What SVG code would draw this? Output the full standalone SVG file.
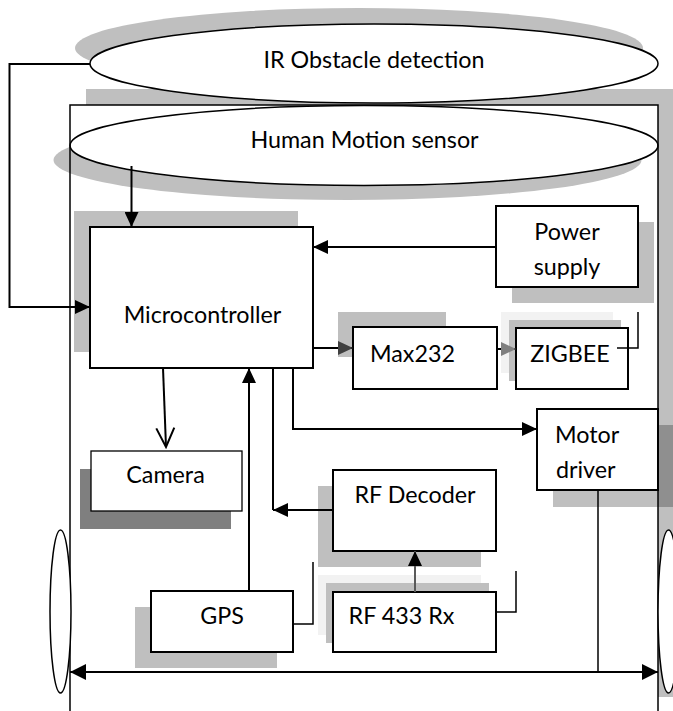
<svg xmlns="http://www.w3.org/2000/svg" width="673" height="711" viewBox="0 0 673 711">
<style>
  .t{font-family:Lato,"Liberation Sans",sans-serif;font-size:23.3px;fill:#000}
  .c{text-anchor:middle}
  .box{fill:#fff;stroke:#000;stroke-width:2}
  .thin{fill:#fff;stroke:#000;stroke-width:1.3}
  .sh{fill:#bfbfbf}
  .ln{fill:none;stroke:#000;stroke-width:2}
  .ln1{fill:none;stroke:#000;stroke-width:1.5}
</style>
<defs>
  <marker id="ah" markerUnits="userSpaceOnUse" markerWidth="15" markerHeight="14" refX="15" refY="7" orient="auto"><path d="M0,0 L15,7 L0,14 z" fill="#000"/></marker>
  <marker id="ahd" markerUnits="userSpaceOnUse" markerWidth="15" markerHeight="14" refX="15" refY="7" orient="auto"><path d="M0,0 L15,7 L0,14 z" fill="#404040"/></marker>
  <marker id="ahg" markerUnits="userSpaceOnUse" markerWidth="15" markerHeight="14" refX="15" refY="7" orient="auto"><path d="M0,0 L15,7 L0,14 z" fill="#7f7f7f"/></marker>
  <marker id="ahs" markerUnits="userSpaceOnUse" markerWidth="16" markerHeight="16" refX="16" refY="8" orient="auto-start-reverse"><path d="M0,0 L16,8 L0,16 z" fill="#000"/></marker>
  <marker id="av" markerUnits="userSpaceOnUse" markerWidth="22" markerHeight="22" refX="20" refY="11" orient="auto"><path d="M1,2 L20,11 L1,20" fill="none" stroke="#000" stroke-width="2"/></marker>
</defs>

<g id="chassis">
  <rect class="sh" x="86" y="89" width="588" height="608"/>
  <rect x="70" y="105" width="588" height="608" fill="#fff"/>
</g>

<g id="ir-obstacle">
  <ellipse class="sh" cx="359" cy="48" rx="284" ry="40"/>
  <ellipse cx="374" cy="63.5" rx="284" ry="39.5" fill="#fff" stroke="#000" stroke-width="1.5"/>
  <text class="t c" x="374" y="68">IR Obstacle detection</text>
</g>

<g id="human-motion">
  <ellipse class="sh" cx="347.5" cy="160" rx="294" ry="40"/>
  <ellipse cx="364" cy="145.5" rx="294" ry="40" fill="#fff" stroke="#000" stroke-width="1.5"/>
  <text class="t c" x="364.5" y="148">Human Motion sensor</text>
</g>

<g id="chassis-frame">
  <rect x="70" y="105" width="588" height="608" fill="none" stroke="#000" stroke-width="1.5"/>
</g>

<g id="microcontroller">
  <rect class="sh" x="74" y="211" width="224" height="141"/>
  <rect class="box" x="90" y="227" width="223" height="141"/>
  <text class="t c" x="202.5" y="323">Microcontroller</text>
</g>

<g id="power-supply">
  <rect class="sh" x="512" y="222" width="142" height="81"/>
  <rect class="box" x="496" y="206" width="142" height="81"/>
  <text class="t c" x="567" y="240">Power</text>
  <text class="t c" x="567" y="275">supply</text>
</g>

<g id="max232">
  <rect class="sh" x="338" y="312" width="108" height="45"/>
  <rect class="box" x="353" y="327" width="144" height="62"/>
  <text class="t c" x="412.5" y="362">Max232</text>
</g>

<g id="zigbee">
  <rect x="501" y="312" width="112" height="61" fill="#f2f2f2"/>
  <rect class="sh" x="509" y="320" width="112" height="61"/>
  <rect class="box" x="516" y="328" width="112" height="61"/>
  <text class="t c" x="570" y="362">ZIGBEE</text>
</g>

<g id="motor-driver">
  <rect x="553" y="425" width="121" height="82" fill="#000" fill-opacity="0.25"/>
  <rect class="box" x="537" y="409" width="121" height="81"/>
  <text class="t" x="555" y="443">Motor</text>
  <text class="t" x="556" y="478">driver</text>
</g>

<g id="camera">
  <rect x="80" y="469" width="151" height="60" fill="#7f7f7f"/>
  <rect class="thin" x="91" y="451" width="151" height="60"/>
  <text class="t c" x="165.5" y="483">Camera</text>
</g>

<g id="rf-decoder">
  <rect class="sh" x="318" y="486" width="163" height="81"/>
  <rect class="box" x="333" y="470" width="163" height="81"/>
  <text class="t c" x="415" y="503">RF Decoder</text>
</g>

<g id="gps">
  <rect class="sh" x="135" y="607" width="142" height="61"/>
  <rect class="box" x="151" y="591" width="142" height="61"/>
  <text class="t c" x="222" y="624">GPS</text>
</g>

<g id="rf433">
  <rect x="318" y="575" width="163" height="60" fill="#f2f2f2"/>
  <rect class="sh" x="326" y="583" width="163" height="60"/>
  <rect class="box" x="333" y="592" width="163" height="60"/>
  <text class="t c" x="401.5" y="624">RF 433 Rx</text>
</g>

<g id="wheel-left">
  <ellipse cx="60.5" cy="611.5" rx="10.5" ry="81.5" fill="#fff" stroke="#000" stroke-width="1.5"/>
</g>
<g id="wheel-right">
  <ellipse cx="668.5" cy="611.5" rx="10.5" ry="81.5" fill="#fff" stroke="#000" stroke-width="1.5"/>
</g>

<g id="connectors">
  <polyline class="ln" points="90,64 9.5,64 9.5,307 90,307" marker-end="url(#ah)"/>
  <line class="ln" x1="131.5" y1="166" x2="131.5" y2="227" marker-end="url(#ah)"/>
  <line class="ln" x1="496" y1="247" x2="313" y2="247" marker-end="url(#ah)"/>
  <line class="ln" x1="313" y1="348" x2="353" y2="348" marker-end="url(#ahd)"/>
  <line class="ln" x1="497" y1="349" x2="516" y2="349" marker-end="url(#ahg)"/>
  <polyline class="ln1" points="617,348 638,348 638,312"/>
  <polyline class="ln" points="293,368 293,429 537,429" marker-end="url(#ah)"/>
  <line class="ln" x1="163" y1="368" x2="166" y2="447" marker-end="url(#av)"/>
  <line class="ln" x1="249" y1="591" x2="249" y2="368" marker-end="url(#ah)"/>
  <line class="ln" x1="273" y1="368" x2="273" y2="510"/>
  <line class="ln" x1="333" y1="510" x2="273" y2="510" marker-end="url(#ah)"/>
  <polyline class="ln1" points="293,624 313,624 313,562"/>
  <line x1="415" y1="592" x2="415" y2="551" stroke="#595959" stroke-width="2" marker-end="url(#ah)"/>
  <polyline class="ln1" points="496,612 516,612 516,571"/>
  <line class="ln1" x1="598" y1="490" x2="598" y2="672"/>
  <line class="ln" x1="70" y1="672" x2="658" y2="672" marker-start="url(#ahs)" marker-end="url(#ahs)"/>
</g>
</svg>
